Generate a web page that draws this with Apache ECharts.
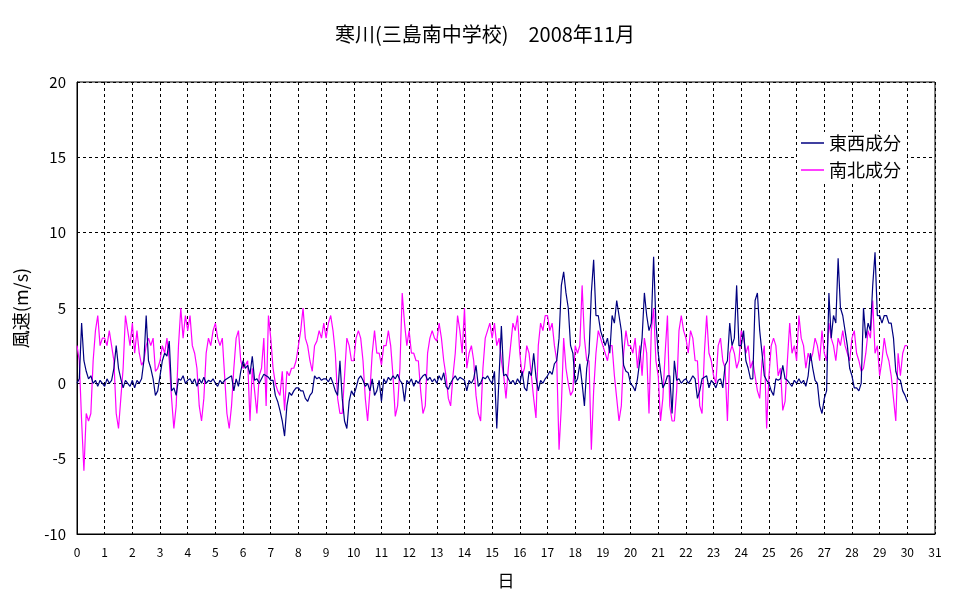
<!DOCTYPE html>
<html>
<head>
<meta charset="utf-8">
<script src="https://cdn.jsdelivr.net/npm/echarts@6/dist/echarts.min.js"></script>
<style>
html,body{margin:0;padding:0;background:#fff;}
#chart{width:970px;height:604px;}
</style>
</head>
<body>
<div id="chart"></div>
<script>
const titleText = '寒川(三島南中学校)　2008年11月';
const seriesNames = ['東西成分', '南北成分'];
const xTicks = [0,1,2,3,4,5,6,7,8,9,10,11,12,13,14,15,16,17,18,19,20,21,22,23,24,25,26,27,28,29,30,31];
const yTicks = [-10, -5, 0, 5, 10, 15, 20];
const samplesPerDay = 12; // one value every 2 hours, day 0 .. day 30

// 東西成分 (m/s)
const ewValues = [
  0.0, 0.3, 4.0, 1.5, 0.8, 0.3, 0.5, 0.0, 0.2, -0.2, 0.2, 0.0,
  -0.2, 0.3, 0.0, 0.2, 1.0, 2.5, 1.0, 0.3, -0.3, 0.2, 0.0, -0.2,
  0.2, -0.3, 0.2, 0.0, 0.3, 1.5, 4.5, 1.5, 1.0, 0.3, -0.8, -0.5,
  0.5, 1.5, 2.0, 1.8, 2.8, -0.5, -0.3, -0.8, 0.3, 0.2, 0.5, 0.0,
  0.2, 0.3, 0.0, 0.3, -0.2, 0.3, 0.0, 0.4, 0.0, 0.2, 0.1, 0.3,
  0.0, -0.2, 0.2, 0.0, 0.2, 0.3, 0.4, 0.5, -0.5, 0.3, -0.2, 0.8,
  1.5, 1.0, 1.2, 0.6, 1.8, 0.2, 0.3, 0.0, 0.3, 0.6, 0.5, 0.4,
  0.2, 0.2, -0.8, -1.2, -1.8, -2.5, -3.5, -1.5, -0.6, -0.8, -0.5, -0.3,
  -0.3, -0.5, -0.5, -1.0, -1.2, -0.8, -0.6, 0.5, 0.3, 0.4, 0.2, 0.3,
  0.3, 0.1, 0.4, 0.0, -0.5, -0.8, 1.5, -1.0, -2.5, -3.0, -1.2, -0.5,
  -0.8, -0.3, 0.3, 0.5, 0.2, -0.2, 0.0, -0.5, 0.3, -0.8, -0.5, 0.2,
  -1.2, 0.3, 0.0, 0.4, 0.2, 0.5, 0.3, 0.6, 0.2, 0.0, -1.2, 0.2,
  0.0, 0.3, -0.2, 0.2, 0.0, 0.3, 0.5, 0.6, 0.2, 0.4, 0.1, 0.3,
  0.0, 0.5, 0.2, 0.7, -0.2, -0.4, 0.0, 0.3, 0.5, 0.2, 0.4, 0.3,
  0.2, -0.5, 0.2, 0.0, 0.3, 1.2, -0.2, 0.0, 0.4, 0.3, 0.5, 0.2,
  0.0, 0.8, -3.0, 0.5, 3.8, 0.5, 0.6, 0.3, 0.0, 0.2, -0.1, 0.3,
  0.0, 0.8, -0.3, -0.5, 0.8, 0.5, 2.0, 0.4, -0.5, 0.2, 0.0, 0.3,
  0.5, 0.8, 0.6, 1.3, 1.5, 3.0, 6.5, 7.4, 6.0, 5.0, 2.5, 2.0,
  0.0, 0.3, 1.3, 0.0, -1.5, 1.0, 2.0, 6.0, 8.2, 4.5, 4.5, 3.5,
  3.0, 2.5, 3.0, 2.0, 4.5, 4.0, 5.5, 4.5, 3.5, 1.2, 0.8, 0.7,
  0.0, -0.2, -0.5, 0.3, 1.5, 3.0, 6.0, 4.5, 3.5, 4.0, 8.4, 4.0,
  2.0, 0.8, -0.3, 0.0, 0.5, 0.5, -2.0, 1.5, 0.2, 0.3, 0.0, 0.2,
  0.3, 0.0, 0.2, 0.5, 0.3, -1.0, -0.5, 0.3, 0.4, 0.5, -0.3, 0.2,
  0.0, -0.3, 0.2, 0.3, -0.3, 1.2, 1.5, 4.0, 2.5, 3.0, 6.5, 2.5,
  2.5, 3.5, 1.5, 1.0, 0.3, 0.3, 5.5, 6.0, 3.5, 2.0, 0.5, 0.2,
  0.0, -0.5, -0.8, 0.3, 0.2, 0.3, 1.2, 0.3, 0.2, 0.0, -0.2, 0.2,
  0.0, 0.3, 0.0, 0.2, -0.2, 0.5, 2.0, 1.0, 0.2, 0.0, -1.5, -2.0,
  -1.0, -0.5, 6.0, 3.0, 4.5, 4.0, 8.3, 5.0, 4.5, 3.5, 2.5, 1.0,
  0.5, -0.3, -0.3, -0.5, 0.0, 5.0, 3.0, 4.0, 3.5, 6.5, 8.7, 4.5,
  4.5, 4.0, 4.5, 4.5, 4.0, 4.0, 3.0, 0.8, 0.3, 0.2, -0.5, -0.8,
  -1.2
];

// 南北成分 (m/s)
const nsValues = [
  2.5, 1.5, -2.5, -5.8, -2.0, -2.5, -2.0, 1.5, 3.5, 4.5, 2.5, 3.0,
  3.0, 2.5, 3.5, 2.5, 1.5, -2.0, -3.0, -1.0, 1.0, 4.5, 3.5, 2.5,
  4.0, 2.0, 3.5, 2.0, 1.2, 1.5, 2.5, 3.0, 2.5, 3.0, 0.8, 1.0,
  1.5, 2.5, 2.0, 3.0, 1.5, -1.0, -3.0, -1.5, 2.5, 5.0, 3.0, 4.5,
  3.5, 4.5, 2.5, 2.0, 1.0, -1.5, -2.5, -1.0, 2.0, 3.0, 2.5, 3.5,
  4.0, 3.0, 2.5, 3.0, 0.5, -2.0, -3.0, -1.5, 1.0, 3.0, 3.5, 1.5,
  1.0, 1.2, 1.5, -2.5, 1.0, -0.5, -2.0, 0.5, 1.0, 3.0, -1.5, 4.5,
  3.0, 1.0, 0.0, -0.5, -0.8, 0.8, -1.8, 0.8, 0.5, 1.0, 1.0, 1.5,
  2.5, 3.5, 5.0, 3.0, 2.5, 1.5, 0.8, 2.5, 2.8, 3.5, 3.0, 4.0,
  3.0, 4.0, 4.5, 3.5, 2.0, -1.0, -2.0, -2.0, 0.5, 3.0, 2.5, 1.5,
  1.5, 3.0, 3.5, 3.0, 1.5, -1.0, -2.5, -0.5, 2.0, 3.5, 2.0, 2.0,
  1.2, 2.5, 2.5, 3.5, 2.5, 0.5, -2.2, -1.5, 1.0, 6.0, 4.0, 2.5,
  3.5, 2.0, 2.0, 1.5, 1.5, -0.5, -2.0, -1.5, 2.0, 3.0, 3.5, 3.0,
  2.8, 4.0, 3.0, 1.5, 0.5, -1.0, -1.5, 0.5, 2.0, 4.5, 3.5, 2.0,
  5.0, 1.0, 2.0, 2.5, 1.5, -0.8, -2.0, -2.5, 1.0, 3.0, 3.5, 4.0,
  3.0, 4.0, 2.5, 3.0, 1.5, 0.5, -1.0, 1.0, 2.5, 4.0, 3.5, 4.5,
  2.0, 0.5, 1.0, 2.5, 2.0, 0.5, -1.0, -2.3, 2.5, 4.0, 3.5, 4.5,
  4.5, 3.5, 4.0, 2.5, 1.5, -4.4, -1.5, 3.0, 1.0, 0.0, -0.8, -0.5,
  2.5, 2.0, 2.5, 6.5, 3.0, 1.5, 1.5, -4.4, -0.5, 2.0, 3.5, 3.0,
  2.5, 2.0, 1.5, 2.5, 2.5, 0.5, -1.0, -2.5, -1.5, 2.0, 3.5, 2.5,
  2.5, 2.0, 3.0, 1.0, 2.5, 0.5, 3.0, 2.0, -2.0, 3.5, 5.0, 1.5,
  0.5, -2.5, -1.0, 2.0, 4.5, -1.5, -2.5, -2.5, -0.5, 3.5, 4.5, 3.5,
  3.0, 2.0, 3.5, 3.0, 1.5, 1.5, -1.5, -2.0, 2.0, 4.5, 2.0, 1.5,
  0.5, 0.0, 2.5, 3.0, 1.5, 1.0, -2.5, 2.0, 2.5, 2.0, 1.0, 1.5,
  3.5, 3.0, 2.0, 2.5, 1.0, 1.5, 0.5, -0.5, -1.0, 1.5, 2.5, -3.0,
  0.5, 2.5, 3.0, 2.5, 0.5, 1.0, -1.8, -1.2, 1.5, 4.0, 2.0, 2.5,
  1.5, 4.5, 3.0, 2.5, 1.0, 2.0, 1.5, 2.0, 3.0, 2.5, 1.5, 3.5,
  2.0, 1.5, 4.0, 3.0, 2.5, 1.5, 3.0, 2.5, 3.5, 2.5, 2.0, 1.5,
  3.0, 3.5, 2.0, 1.5, 0.8, 1.0, 2.0, 3.5, 3.0, 5.5, 2.0, 2.5,
  0.5, 1.5, 3.0, 2.0, 1.5, 0.5, -1.0, -2.5, 2.0, 0.5, 2.0, 2.5,
  2.5
];

function toPairs(values) {
  return values.map((v, i) => [i / samplesPerDay, v]);
}

const font = '"Noto Sans CJK JP", "Noto Sans", sans-serif';
const chart = echarts.init(document.getElementById('chart'), null, {renderer: 'canvas'});
chart.setOption({
  animation: false,
  backgroundColor: '#ffffff',
  title: {
    text: titleText,
    left: 'center',
    top: 19,
    textStyle: {fontFamily: font, fontSize: 20, fontWeight: 'normal', color: '#000'}
  },
  legend: {
    orient: 'vertical',
    left: 797,
    top: 132,
    backgroundColor: '#ffffff',
    padding: [2, 6, 2, 4],
    icon: 'rect',
    itemWidth: 23,
    itemHeight: 1.5,
    itemGap: 9,
    data: seriesNames,
    textStyle: {fontFamily: font, fontSize: 18, color: '#000'}
  },
  grid: {
    left: 77, right: 35, top: 82, bottom: 70,
    show: true, borderColor: '#000', borderWidth: 1, backgroundColor: 'transparent'
  },
  xAxis: {
    type: 'value',
    min: xTicks[0], max: xTicks[xTicks.length - 1], interval: 1,
    name: '日',
    nameLocation: 'middle',
    nameGap: 38,
    nameTextStyle: {fontFamily: font, fontSize: 17, color: '#000'},
    axisLine: {show: true, onZero: false, lineStyle: {color: '#000'}},
    axisTick: {show: false},
    axisLabel: {fontFamily: font, fontSize: 12, color: '#000', margin: 12},
    splitLine: {show: true, lineStyle: {color: '#000', type: [3, 3], width: 1}}
  },
  yAxis: {
    type: 'value',
    min: yTicks[0], max: yTicks[yTicks.length - 1], interval: 5,
    name: '風速(m/s)',
    nameLocation: 'middle',
    nameGap: 47,
    nameRotate: 90,
    nameTextStyle: {fontFamily: font, fontSize: 18, color: '#000'},
    axisLine: {show: true, lineStyle: {color: '#000'}},
    axisTick: {show: false},
    axisLabel: {fontFamily: font, fontSize: 15, color: '#000', margin: 11},
    splitLine: {show: true, lineStyle: {color: '#000', type: [3, 3], width: 1}}
  },
  series: [
    {
      name: seriesNames[0], type: 'line', symbol: 'none', z: 3,
      lineStyle: {color: '#000080', width: 1.2}, itemStyle: {color: '#000080'},
      data: toPairs(ewValues)
    },
    {
      name: seriesNames[1], type: 'line', symbol: 'none', z: 2,
      lineStyle: {color: '#ff00ff', width: 1.2}, itemStyle: {color: '#ff00ff'},
      data: toPairs(nsValues)
    }
  ]
});
</script>
</body>
</html>
